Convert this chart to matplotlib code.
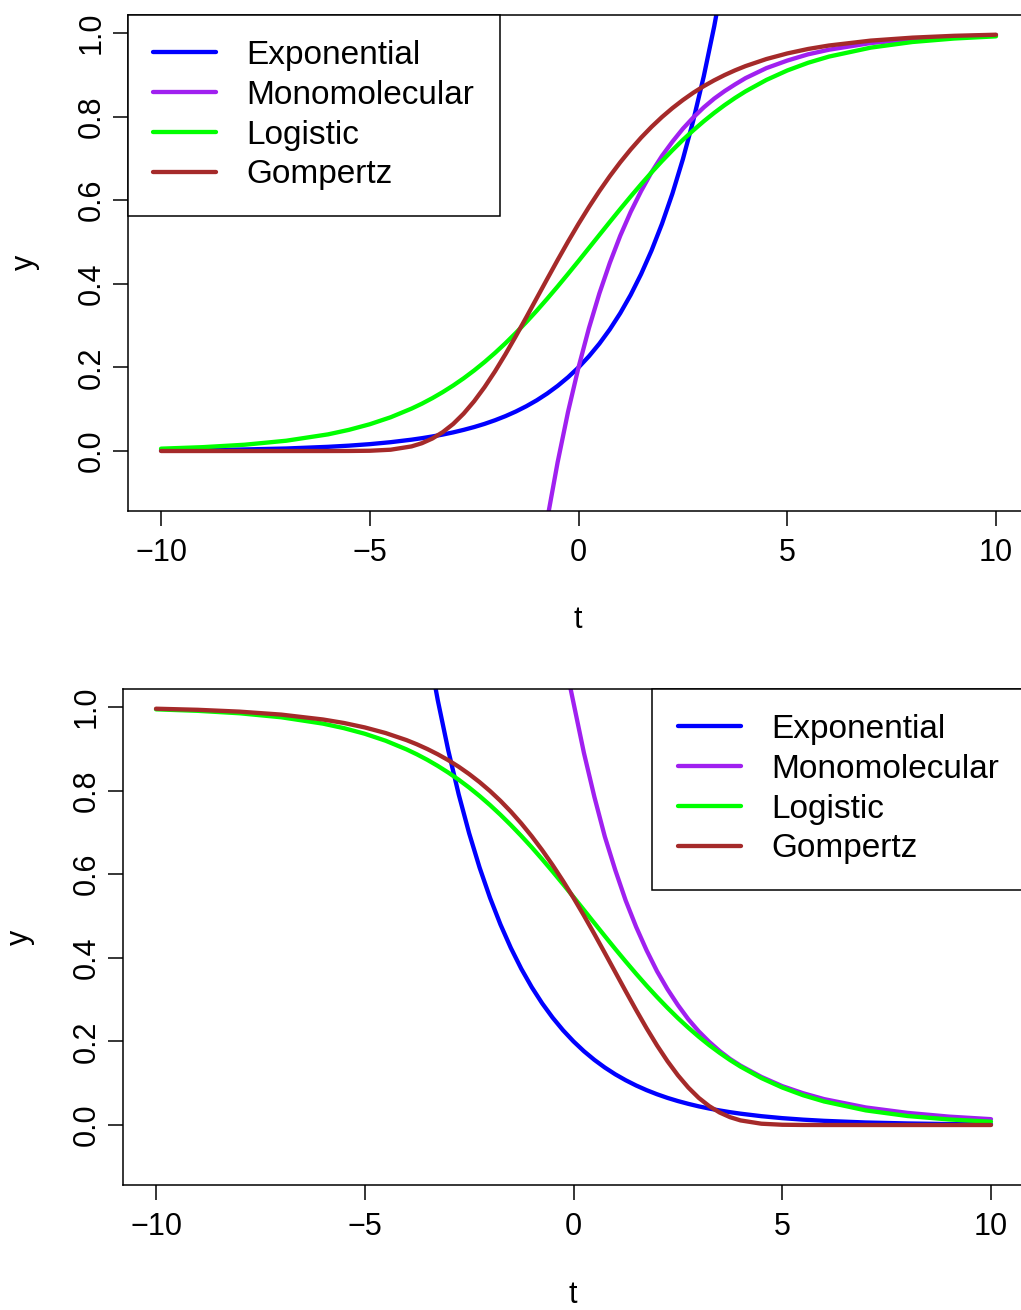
import numpy as np
import matplotlib
matplotlib.use("Agg")
import matplotlib.pyplot as plt

nan = np.nan

# time grid (finer in the middle where the curves bend most)
T = [-10, -9, -8, -7, -6, -5.5, -5, -4.5, -4, -3.75, -3.5, -3.25, -3, -2.75,
     -2.5, -2.25, -2, -1.75, -1.5, -1.25, -1, -0.75, -0.5, -0.25, 0, 0.25,
     0.5, 0.75, 1, 1.25, 1.5, 1.75, 2, 2.25, 2.5, 2.75, 3, 3.25, 3.5, 3.75,
     4, 4.5, 5, 5.5, 6, 7, 8, 9, 10]

# top panel: increasing curves
EXP_UP = [0.0013, 0.0022, 0.0037, 0.0060, 0.0100, 0.0128, 0.0164, 0.0211,
          0.0271, 0.0307, 0.0348, 0.0394, 0.0446, 0.0506, 0.0573, 0.0649,
          0.0736, 0.0834, 0.0945, 0.1071, 0.1213, 0.1375, 0.1558, 0.1765,
          0.2000, 0.2266, 0.2568, 0.2910, 0.3297, 0.3736, 0.4234, 0.4798,
          0.5437, 0.6160, 0.6981, 0.7910, 0.8963, 1.0157, 1.1509,
          nan, nan, nan, nan, nan, nan, nan, nan, nan, nan]
MONO_UP = [nan, nan, nan, nan, nan, nan, nan, nan, nan, nan,
           nan, nan, nan, nan, nan, nan, nan, nan, nan, nan,
           -0.319, -0.164, -0.027, 0.094, 0.200, 0.294, 0.377, 0.450, 0.515,
           0.572, 0.622, 0.667, 0.706, 0.740, 0.771, 0.798, 0.822, 0.843,
           0.861, 0.877, 0.892, 0.916, 0.934, 0.949, 0.960, 0.976, 0.985,
           0.991, 0.995]
LOGI_UP = [0.0056, 0.0092, 0.0150, 0.0246, 0.0398, 0.0506, 0.0640, 0.0807,
           0.1014, 0.1133, 0.1265, 0.1410, 0.1568, 0.1740, 0.1927, 0.2129,
           0.2346, 0.2578, 0.2825, 0.3085, 0.3357, 0.3642, 0.3936, 0.4238,
           0.4545, 0.4857, 0.5169, 0.5480, 0.5788, 0.6089, 0.6382, 0.6666,
           0.6937, 0.7196, 0.7442, 0.7672, 0.7888, 0.8089, 0.8275, 0.8446,
           0.8603, 0.8877, 0.9103, 0.9288, 0.9436, 0.9650, 0.9785, 0.9868,
           0.9920]
GOMP_UP = [0.0000, 0.0000, 0.0000, 0.0000, 0.0000, 0.0001, 0.0006, 0.0031,
           0.0110, 0.0187, 0.0299, 0.0452, 0.0649, 0.0896, 0.1190, 0.1528,
           0.1905, 0.2315, 0.2750, 0.3200, 0.3658, 0.4116, 0.4569, 0.5010,
           0.5434, 0.5837, 0.6218, 0.6575, 0.6907, 0.7214, 0.7497, 0.7755,
           0.7990, 0.8203, 0.8396, 0.8571, 0.8728, 0.8868, 0.8994, 0.9107,
           0.9208, 0.9377, 0.9511, 0.9618, 0.9701, 0.9818, 0.9889, 0.9933,
           0.9959]

# bottom panel: decreasing curves
EXP_DOWN = [nan, nan, nan, nan, nan, nan, nan, nan, nan, nan,
            1.1509, 1.0157, 0.8963, 0.7910, 0.6981, 0.6160, 0.5437, 0.4798,
            0.4234, 0.3736, 0.3297, 0.2910, 0.2568, 0.2266, 0.2000, 0.1765,
            0.1558, 0.1375, 0.1213, 0.1071, 0.0945, 0.0834, 0.0736, 0.0649,
            0.0573, 0.0506, 0.0446, 0.0394, 0.0348, 0.0307, 0.0271, 0.0211,
            0.0164, 0.0128, 0.0100, 0.0060, 0.0037, 0.0022, 0.0013]
MONO_DOWN = [nan, nan, nan, nan, nan, nan, nan, nan, nan, nan,
             nan, nan, nan, nan, nan, nan, nan, nan, nan, nan,
             nan, nan, nan,
             1.13, 1.01, 0.89, 0.785, 0.69, 0.61, 0.537, 0.474, 0.418, 0.368,
             0.325, 0.287, 0.253, 0.224, 0.199, 0.177, 0.158, 0.142, 0.115,
             0.093, 0.076, 0.062, 0.042, 0.029, 0.020, 0.014]
LOGI_DOWN = [0.9944, 0.9908, 0.9850, 0.9754, 0.9602, 0.9494, 0.9360, 0.9193,
             0.8986, 0.8867, 0.8735, 0.8590, 0.8432, 0.8260, 0.8073, 0.7871,
             0.7654, 0.7422, 0.7175, 0.6915, 0.6643, 0.6358, 0.6064, 0.5762,
             0.5455, 0.5143, 0.4831, 0.4520, 0.4212, 0.3911, 0.3618, 0.3334,
             0.3063, 0.2804, 0.2558, 0.2328, 0.2112, 0.1911, 0.1726, 0.1554,
             0.1397, 0.1123, 0.0897, 0.0712, 0.0564, 0.0350, 0.0215, 0.0132,
             0.0080]
GOMP_DOWN = [0.9959, 0.9933, 0.9889, 0.9818, 0.9701, 0.9618, 0.9511, 0.9377,
             0.9208, 0.9107, 0.8994, 0.8868, 0.8728, 0.8571, 0.8396, 0.8203,
             0.7990, 0.7755, 0.7497, 0.7214, 0.6907, 0.6575, 0.6218, 0.5837,
             0.5434, 0.5010, 0.4569, 0.4116, 0.3658, 0.3200, 0.2750, 0.2315,
             0.1905, 0.1528, 0.1190, 0.0896, 0.0649, 0.0452, 0.0299, 0.0187,
             0.0110, 0.0031, 0.0006, 0.0001, 0.0000, 0.0000, 0.0000, 0.0000,
             0.0000]

NAMES = ["Exponential", "Monomolecular", "Logistic", "Gompertz"]
COLORS = ["#0000FF", "#A020F0", "#00FF00", "#A52A2A"]
XTICKS = [-10, -5, 0, 5, 10]
YTICKS = [0.0, 0.2, 0.4, 0.6, 0.8, 1.0]
YTICKLABELS = ["0.0", "0.2", "0.4", "0.6", "0.8", "1.0"]

plt.rcParams["font.family"] = ["Liberation Sans", "DejaVu Sans"]
FS = 22      # tick labels and axis titles
LEG_FS = 24  # legend text is a bit bigger in the original


def draw_panel(ax, curves, loc, anchor):
    for y, name, col in zip(curves, NAMES, COLORS):
        ax.plot(T, y, color=col, lw=3.1, label=name,
                solid_capstyle="round", solid_joinstyle="round")
    ax.set_xlim(-10.8, 10.8)
    ax.set_ylim(-0.144, 1.044)
    ax.set_xticks(XTICKS)
    ax.set_yticks(YTICKS)
    ax.set_yticklabels(YTICKLABELS)
    for sp in ax.spines.values():
        sp.set_linewidth(1.1)
    ax.tick_params(length=10.8, width=1.1, labelsize=FS, direction="out")
    ax.tick_params(axis="x", pad=8.5)
    ax.tick_params(axis="y", pad=4.5, labelrotation=90)
    for lbl in ax.get_yticklabels():
        lbl.set_va("center")
    leg = ax.legend(loc=loc, bbox_to_anchor=anchor, borderaxespad=0,
                    fontsize=LEG_FS, fancybox=False, framealpha=1,
                    edgecolor="black", handlelength=1.89, handletextpad=0.92,
                    labelspacing=0.265, borderpad=0.76)
    leg.get_frame().set_linewidth(1.1)
    for line in leg.get_lines():
        line.set_linewidth(3.1)
        line.set_solid_capstyle("round")


fig = plt.figure(figsize=(10.21, 13.10), dpi=100)

ax1 = fig.add_axes([0.12498, 0.60977, 0.88325, 0.37908])
draw_panel(ax1, [EXP_UP, MONO_UP, LOGI_UP, GOMP_UP], "upper left", (0, 1))

ax2 = fig.add_axes([0.12008, 0.09527, 0.88325, 0.37908])
draw_panel(ax2, [EXP_DOWN, MONO_DOWN, LOGI_DOWN, GOMP_DOWN], "upper right", (1, 1))

# axis titles placed like base R's mtext
fig.text(578 / 1021, 1 - 620 / 1310, "t", fontsize=FS, ha="center", va="center")
fig.text(25 / 1021, 1 - 262 / 1310, "y", fontsize=FS, ha="center", va="center",
         rotation=90)
fig.text(573 / 1021, 1 - 1295 / 1310, "t", fontsize=FS, ha="center", va="center")
fig.text(20 / 1021, 1 - 937 / 1310, "y", fontsize=FS, ha="center", va="center",
         rotation=90)

fig.savefig("out.png", dpi=100)
